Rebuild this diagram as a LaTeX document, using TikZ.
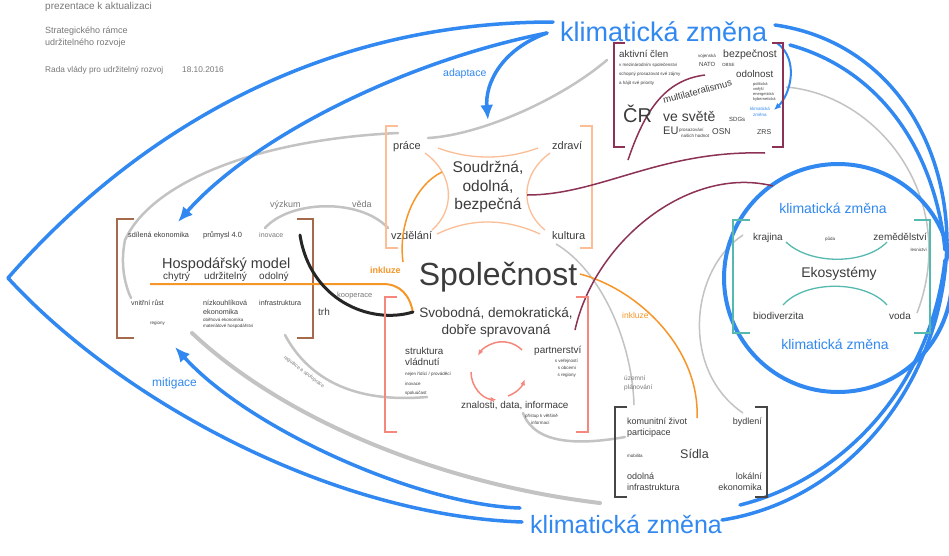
\documentclass[tikz,border=0pt]{standalone}
\usepackage{fontspec}
\setmainfont{Liberation Sans}
\usetikzlibrary{arrows.meta}
\definecolor{kzblue}{RGB}{48,136,240}
\definecolor{txt}{RGB}{60,60,60}
\definecolor{lgray}{RGB}{195,195,195}
\definecolor{mgray}{RGB}{120,120,120}
\definecolor{maroonc}{RGB}{140,50,85}
\definecolor{brownb}{RGB}{165,105,75}
\definecolor{peach}{RGB}{252,190,150}
\definecolor{orng}{RGB}{247,150,40}
\definecolor{salmonc}{RGB}{246,135,125}
\definecolor{tealc}{RGB}{85,185,175}
\definecolor{dgray}{RGB}{70,70,70}
\tikzset{
  lbl/.style={inner sep=0pt, anchor=base west, text=txt},
  lblc/.style={inner sep=0pt, anchor=base, text=txt},
  lblr/.style={inner sep=0pt, anchor=base east, text=txt},
  tiny/.style={font=\fontsize{4.5}{5.5}\selectfont},
  bluearc/.style={draw=kzblue, line width=3.5pt, line cap=round},
  bluearrow/.style={bluearc, -{Latex[length=15pt,width=13pt]}},
  grayarc/.style={draw=lgray, line width=2.5pt, line cap=round},
  brk/.style={line width=2pt},
}
\begin{document}
\begin{tikzpicture}[x=1pt,y=-1pt]
\useasboundingbox (0,0) rectangle (949,555);
\fill[white] (0,0) rectangle (949,555);

% ---------- header text
\node[lbl, text=mgray, font=\fontsize{10}{12}\selectfont] (h1) at (45,9) {prezentace k aktualizaci};
\node[lbl, text=mgray, font=\fontsize{9}{11}\selectfont] (h2) at (45,33) {Strategického rámce};
\node[lbl, text=mgray, font=\fontsize{9}{11}\selectfont] (h3) at (45,45) {udržitelného rozvoje};
\node[lbl, text=mgray, font=\fontsize{8.3}{10}\selectfont] (h4) at (45,72) {Rada vlády pro udržitelný rozvoj};
\node[lbl, text=mgray, font=\fontsize{8.3}{10}\selectfont] (h5) at (182,72) {18.10.2016};

% ---------- gray connectors (behind)
\draw[grayarc] (607,60) .. controls (560,100) and (480,135) .. (428,138);
\draw[grayarc] (398,133) .. controls (250,140) and (150,185) .. (125,240) .. controls (120,265) and (125,285) .. (131,298);
\draw[grayarc] (265,228) .. controls (290,200) and (360,198) .. (388,228);
\draw[grayarc] (285,335) .. controls (320,400) and (390,400) .. (427,397);
\draw[draw=lgray, line width=4pt, line cap=round] (192,333) .. controls (290,425) and (450,485) .. (600,503);
\draw[grayarc] (523,413) .. controls (535,445) and (580,445) .. (625,437);
\draw[draw=lgray, line width=1.5pt] (556,244) .. controls (600,270) and (632,340) .. (634,405);
\draw[draw=lgray, line width=1.5pt] (743,235) .. controls (690,270) and (680,370) .. (743,413);
\draw[draw=lgray, line width=1.5pt] (786,87) .. controls (880,95) and (960,200) .. (917,313);

% ---------- blue lens
\draw[bluearc] (8,278) .. controls (120,150) and (300,22) .. (553,22);
\draw[bluearc] (8,278) .. controls (120,400) and (330,515) .. (522,522);
\draw[bluearrow] (547,33) .. controls (400,62) and (250,140) .. (178,222);
\draw[bluearrow] (547,33) .. controls (500,50) and (485,85) .. (488,120);
\draw[bluearrow] (520,508) .. controls (420,505) and (250,430) .. (175,347);
\draw[bluearc] (775,25) .. controls (880,40) and (945,130) .. (947,240);
\draw[bluearc] (790,45) .. controls (880,70) and (935,150) .. (945,250);
\draw[bluearc] (947,240) .. controls (945,380) and (850,500) .. (722,520);
\draw[bluearc] (945,260) .. controls (930,390) and (840,480) .. (740,505);
\draw[draw=kzblue, line width=2pt, -{Latex[length=7pt,width=6pt]}] (777,43) .. controls (800,60) and (790,95) .. (774,110);
\draw[draw=kzblue, line width=4pt] (838,278) circle[radius=114];

% ---------- big labels
\node[lbl, text=kzblue, font=\fontsize{27}{30}\selectfont] (kz1) at (560,41) {klimatická změna};
\node[lbl, text=kzblue, font=\fontsize{25}{28}\selectfont] (kz2) at (530,533) {klimatická změna};
\node[lbl, text=kzblue, font=\fontsize{10.5}{12}\selectfont] (adap) at (443,76) {adaptace};
\node[lbl, text=kzblue, font=\fontsize{12}{14}\selectfont] (miti) at (152,386) {mitigace};

% ---------- ČR box
\draw[maroonc, brk] (625,43) -- (614,43) -- (614,147) -- (625,147);
\draw[maroonc, brk] (772,43) -- (783,43) -- (783,147) -- (772,147);
\node[lbl, font=\fontsize{9.8}{11}\selectfont] (ac) at (619,57) {aktivní člen};
\node[lbl, tiny] (ac1) at (619,66) {v mezinárodním společenství};
\node[lbl, tiny] (ac2) at (619,75) {schopný prosazovat své zájmy};
\node[lbl, tiny] (ac3) at (619,84) {a hájit své priority};
\node[lbl, tiny] (voj) at (698,57) {vojenská};
\node[lbl, font=\fontsize{6}{7}\selectfont] (nato) at (699,66) {NATO};
\node[lbl, tiny] (obse) at (722,66) {OBSE};
\node[lbl, font=\fontsize{10.5}{12}\selectfont] (bez) at (723,57) {bezpečnost};
\node[lbl, font=\fontsize{9.8}{11}\selectfont] (odol) at (736,77) {odolnost};
\node[lbl, font=\fontsize{4}{5}\selectfont] (o1) at (753,85) {politická};
\node[lbl, font=\fontsize{4}{5}\selectfont] (o2) at (753,90) {vnější};
\node[lbl, font=\fontsize{4}{5}\selectfont] (o3) at (753,95) {energetická};
\node[lbl, font=\fontsize{4}{5}\selectfont] (o4) at (753,100) {kybernetická};
\node[lbl, text=kzblue, font=\fontsize{4.5}{5}\selectfont] (kzs1) at (750,110) {klimatická};
\node[lbl, text=kzblue, font=\fontsize{4.5}{5}\selectfont] (kzs2) at (753,116) {změna};
\draw[maroonc, line width=1.5pt] (628,160) .. controls (645,110) and (665,80) .. (705,75);
\node[lbl, rotate=15, font=\fontsize{9.5}{11}\selectfont] (multi) at (664,104) {multilateralismus};
\node[lbl, font=\fontsize{20}{22}\selectfont] (cr) at (623,122) {ČR};
\node[lbl, font=\fontsize{14}{16}\selectfont] (svet) at (663,121) {ve světě};
\node[lbl, font=\fontsize{6}{7}\selectfont] (sdg) at (729,121) {SDGs};
\node[lbl, font=\fontsize{11}{12}\selectfont] (eu) at (663,134) {EU};
\node[lbl, tiny] (eu1) at (679,131) {prosazování};
\node[lbl, tiny] (eu2) at (681,137) {našich hodnot};
\node[lbl, font=\fontsize{8.5}{10}\selectfont] (osn) at (712,134) {OSN};
\node[lbl, font=\fontsize{7}{8}\selectfont] (zrs) at (757,134) {ZRS};

% ---------- Soudržná box
\draw[peach, brk] (398,126) -- (386,126) -- (386,248) -- (398,248);
\draw[peach, brk] (580,126) -- (592,126) -- (592,248) -- (580,248);
\node[lbl, font=\fontsize{11}{12}\selectfont] (prace) at (393,149) {práce};
\node[lbl, font=\fontsize{11}{12}\selectfont] (zdravi) at (552,149) {zdraví};
\node[lbl, font=\fontsize{11}{12}\selectfont] (vzdel) at (391,239) {vzdělání};
\node[lbl, font=\fontsize{11}{12}\selectfont] (kult) at (552,239) {kultura};
\node[inner sep=0pt, text=txt, font=\fontsize{15.5}{18.5}\selectfont, align=center] (soud) at (488,187) {Soudržná,\\odolná,\\bezpečná};
\draw[peach, line width=1.3pt] (438,148) .. controls (470,160) and (505,160) .. (538,148);
\draw[peach, line width=1.3pt] (425,153) .. controls (455,175) and (455,210) .. (432,230);
\draw[peach, line width=1.3pt] (550,153) .. controls (520,175) and (520,210) .. (545,230);
\draw[peach, line width=1.3pt] (437,234) .. controls (470,218) and (505,218) .. (540,234);
\draw[orng, line width=1.5pt] (442,172) .. controls (415,185) and (398,225) .. (403,262);

% ---------- Hospodářský model
\draw[brownb, brk] (134,219) -- (117,219) -- (117,338) -- (134,338);
\draw[brownb, brk] (297,219) -- (313,219) -- (313,338) -- (297,338);
\node[lbl, font=\fontsize{7.3}{8}\selectfont] (sdil) at (128,237) {sdílená ekonomika};
\node[lbl, font=\fontsize{7.5}{8}\selectfont] (prum) at (203,237) {průmysl 4.0};
\node[lbl, text=mgray, font=\fontsize{7}{8}\selectfont] (inov) at (259,237) {inovace};
\node[lbl, font=\fontsize{14.5}{16}\selectfont] (hosp) at (162,268) {Hospodářský model};
\node[lbl, font=\fontsize{10}{12}\selectfont] (chyt) at (163,279) {chytrý};
\node[lbl, font=\fontsize{10}{12}\selectfont] (udrz) at (204,279) {udržitelný};
\node[lbl, font=\fontsize{10}{12}\selectfont] (odln) at (259,279) {odolný};
\draw[orng, line width=2pt] (150,284) -- (383,284) .. controls (400,284) and (410,295) .. (413,313);
\node[lbl, text=orng, font=\bfseries\fontsize{9}{10}\selectfont] (ink1) at (370,273) {inkluze};
\node[lbl, font=\fontsize{7}{8}\selectfont] (vnit) at (131,305) {vnitřní růst};
\node[lbl, font=\fontsize{7.2}{8}\selectfont] (nizk) at (203,305) {nízkouhlíková};
\node[lbl, font=\fontsize{7.2}{8}\selectfont] (nizk2) at (203,314) {ekonomika};
\node[lbl, tiny] (obeh) at (203,321) {oběhová ekonomika};
\node[lbl, tiny] (mat) at (203,327) {materiálové hospodářství};
\node[lbl, font=\fontsize{7.2}{8}\selectfont] (infr) at (259,305) {infrastruktura};
\node[lbl, tiny] (reg) at (150,324) {regiony};

% výzkum / věda, black kooperace
\node[lbl, text=mgray, font=\fontsize{9}{10}\selectfont] (vyzk) at (270,207) {výzkum};
\node[lbl, text=mgray, font=\fontsize{9}{10}\selectfont] (veda) at (352,207) {věda};
\draw[black!85, line width=3pt, line cap=round] (300,235) .. controls (310,300) and (370,325) .. (413,312);
\node[lbl, text=mgray, font=\fontsize{7.5}{8}\selectfont] (koop) at (337,297) {kooperace};
\node[lbl, font=\fontsize{10}{12}\selectfont] (trh) at (318,315) {trh};

% ---------- Společnost
\node[lblc, font=\fontsize{32}{36}\selectfont] (spol) at (498,285) {Společnost};
\draw[orng, line width=1.5pt] (580,274) .. controls (640,290) and (700,350) .. (697,418);
\node[lbl, text=orng, font=\fontsize{8.5}{10}\selectfont] (ink2) at (622,318) {inkluze};
\node[lbl, text=mgray, font=\fontsize{6.5}{7.5}\selectfont] (uzem) at (624,380) {územní};
\node[lbl, text=mgray, font=\fontsize{6.5}{7.5}\selectfont] (plan) at (624,389) {plánování};

% maroon connectors
\draw[maroonc, line width=1.5pt] (527,195) .. controls (600,195) and (660,150) .. (765,153);
\draw[maroonc, line width=1.5pt] (575,330) .. controls (595,240) and (690,165) .. (773,186);

% ---------- Svobodná box
\draw[salmonc, brk] (397,297) -- (385,297) -- (385,432) -- (397,432);
\draw[salmonc, brk] (576,297) -- (588,297) -- (588,432) -- (576,432);
\node[inner sep=0pt, text=txt, font=\fontsize{13.6}{17}\selectfont, align=center] (svob) at (496,322) {Svobodná, demokratická,\\dobře spravovaná};
\node[lbl, font=\fontsize{9.8}{11}\selectfont] (strk) at (405,354) {struktura};
\node[lbl, font=\fontsize{9.8}{11}\selectfont] (vlad) at (405,365) {vládnutí};
\node[lbl, tiny] (s1) at (405,375) {nejen řídící / prováděcí};
\node[lbl, tiny] (s2) at (405,385) {inovace};
\node[lbl, tiny] (s3) at (405,394) {spoluúčast};
\node[lbl, font=\fontsize{10}{11}\selectfont] (part) at (534,353) {partnerství};
\node[lblr, tiny] (p1) at (578,362) {s veřejností};
\node[lblr, tiny] (p2) at (576,369) {s obcemi};
\node[lblr, tiny] (p3) at (576,376) {s regiony};
\node[lbl, font=\fontsize{9.9}{11}\selectfont] (znal) at (461,408) {znalosti, data, informace};
\node[lbl, tiny] (z1) at (525,417) {přístup k většině};
\node[lbl, tiny] (z2) at (531,424) {informací};
\draw[salmonc, line width=1.5pt, -{Latex[length=6pt,width=5pt]}] (522,350) arc[start angle=-45, end angle=-150, radius=28];
\draw[salmonc, line width=1.5pt, -{Latex[length=6pt,width=5pt]}] (471,372) arc[start angle=-180, end angle=-265, radius=28];
\draw[salmonc, line width=1.5pt, -{Latex[length=6pt,width=5pt]}] (508,396) arc[start angle=-290, end angle=-340, radius=28];

% regulace label
\node[inner sep=0pt, rotate=-37, text=mgray, font=\fontsize{5}{6}\selectfont] (regl) at (304,372) {regulace~a~spolupráce};

% ---------- Sídla
\draw[dgray, brk] (627,407) -- (615,407) -- (615,497) -- (627,497);
\draw[dgray, brk] (755,407) -- (767,407) -- (767,497) -- (755,497);
\node[lbl, font=\fontsize{9}{10}\selectfont] (kom) at (627,424) {komunitní život};
\node[lbl, font=\fontsize{9}{10}\selectfont] (parti) at (627,435) {participace};
\node[lbl, font=\fontsize{4.5}{5}\selectfont] (mob) at (627,457) {mobilita};
\node[lbl, font=\fontsize{12.5}{14}\selectfont] (sidla) at (680,458) {Sídla};
\node[lblr, font=\fontsize{9}{10}\selectfont] (byd) at (762,424) {bydlení};
\node[lbl, font=\fontsize{9}{10}\selectfont] (odn) at (627,479) {odolná};
\node[lbl, font=\fontsize{9}{10}\selectfont] (inf2) at (627,490) {infrastruktura};
\node[lblr, font=\fontsize{9}{10}\selectfont] (lok) at (762,479) {lokální};
\node[lblr, font=\fontsize{9}{10}\selectfont] (eko) at (762,490) {ekonomika};

% ---------- Ekosystémy
\draw[tealc, brk] (750,220) -- (733,220) -- (733,333) -- (750,333);
\draw[tealc, brk] (914,220) -- (930,220) -- (930,333) -- (914,333);
\node[lblc, text=kzblue, font=\fontsize{14}{16}\selectfont] (kz3) at (833,213) {klimatická změna};
\node[lblc, text=kzblue, font=\fontsize{14}{16}\selectfont] (kz4) at (835,349) {klimatická změna};
\node[lbl, font=\fontsize{10}{11}\selectfont] (kraj) at (753,240) {krajina};
\node[lbl, font=\fontsize{4.5}{5}\selectfont] (puda) at (825,240) {půda};
\node[lblr, font=\fontsize{10}{11}\selectfont] (zem) at (927,240) {zemědělství};
\node[lblr, font=\fontsize{4.5}{5}\selectfont] (les) at (927,251) {lesnictví};
\node[lblc, font=\fontsize{14}{16}\selectfont] (ekos) at (839,277) {Ekosystémy};
\node[lbl, font=\fontsize{10}{11}\selectfont] (bio) at (753,319) {biodiverzita};
\node[lblr, font=\fontsize{10}{11}\selectfont] (voda) at (911,319) {voda};
\draw[tealc, line width=1.3pt] (786,242) .. controls (810,265) and (865,265) .. (887,242);
\draw[tealc, line width=1.3pt] (783,305) .. controls (805,280) and (865,280) .. (887,305);
\end{tikzpicture}
\end{document}
